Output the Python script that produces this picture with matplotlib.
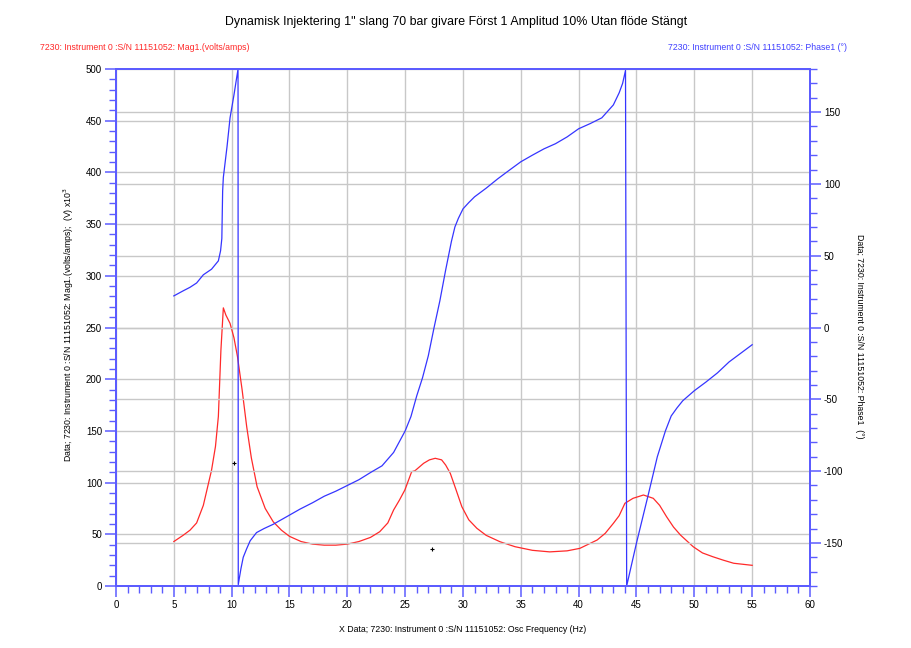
import matplotlib
matplotlib.use("Agg")
import matplotlib.pyplot as plt
from matplotlib.ticker import MultipleLocator

plt.rcParams["font.family"] = ["Liberation Sans", "DejaVu Sans"]
plt.rcParams["axes.unicode_minus"] = False

# --- data -------------------------------------------------------------
MAG_FREQ = [5.0, 5.8, 6.4, 6.97, 7.55, 8.26, 8.6, 8.85, 9.07, 9.28, 9.5, 9.86,
            10.2, 10.5, 10.9, 11.3, 11.7, 12.2, 12.9, 13.6, 14.3, 15.0, 16, 17,
            18, 19, 20, 21, 22, 22.8, 23.5, 24.0, 24.5, 24.98, 25.56, 25.85,
            26.6, 27.1, 27.6, 28.15, 28.5, 28.9, 29.4, 29.9, 30.5, 31.2, 32,
            33.2, 34.5, 36, 37.5, 39, 40.1, 41.6, 42.3, 43.0, 43.5, 44.0, 44.7,
            45.6, 46.45, 47.0, 47.6, 48.2, 48.8, 49.9, 50.7, 51.6, 52.5, 53.4,
            54.2, 55.0]
MAG = [43, 49, 54, 61, 78, 112, 135, 164, 228, 269, 262, 254,
       240, 222, 190, 154, 124, 96, 75, 62, 54, 48, 43, 40.5,
       39.5, 39.5, 40.5, 43, 47, 52.5, 61, 73.5, 83, 93, 110.5, 111.5,
       118.7, 122, 123.5, 122, 117, 109, 93, 76.7, 64, 55.8, 49,
       42.8, 38, 34.5, 33, 34, 36.4, 44.5, 51, 60.6, 68, 80, 84.8,
       88, 84.8, 78, 67, 57, 49.3, 38, 32, 28.3, 25, 22,
       21, 20]

PHASE_FREQ = [5.0, 5.8, 6.4, 6.97, 7.55, 8.26, 8.85, 9.04, 9.15, 9.22, 9.28,
              9.6, 9.86, 10.2, 10.55, 10.57, 10.8, 11.0, 11.3, 11.6, 12.15,
              12.8, 13.6, 14.7, 15.9, 17, 18, 19, 20, 21, 22, 23, 24, 25, 25.5,
              26, 26.5, 27, 27.5, 28, 28.5, 29, 29.3, 29.6, 30, 30.5, 31, 32,
              33, 34, 35, 36, 37, 38, 39, 40, 41, 42, 43, 43.5, 43.8, 44.05,
              44.15, 45, 46, 46.8, 47.5, 48, 48.5, 49, 50, 51, 52, 53, 54, 55]
PHASE = [22, 25.5, 28, 31, 36.7, 40.6, 46.4, 53.4, 62, 95, 104.5,
         126, 146, 162, 180, -179, -168, -160, -154, -148.5, -142.8,
         -140, -137, -132, -126.5, -122, -117.5, -114, -110, -106, -101, -96.3, -87, -72, -62,
         -47.6, -35, -19.7, 0, 18.6, 40, 60, 70, 76, 82.6, 87, 91, 97,
         103.5, 109.5, 115.4, 120, 124.4, 128, 132.7, 138.4, 142, 146, 155, 163.4, 170, 179,
         -180, -150, -117, -90, -72, -61.6, -56, -51, -44, -38, -31.6, -24, -18, -12]

CURSOR_F = [10.2, 27.3]
CURSOR_V = [119, 35.8]

TITLE = "Dynamisk Injektering 1\" slang 70 bar givare Först 1 Amplitud 10% Utan flöde Stängt"
MAG_HDR = "7230: Instrument 0 :S/N 11151052: Mag1.(volts/amps)"
PHASE_HDR = "7230: Instrument 0 :S/N 11151052: Phase1 (°)"
YLABEL_L = "Data; 7230: Instrument 0 :S/N 11151052: Mag1.(volts/amps);  (V) x10$^3$"
YLABEL_R = "Data; 7230: Instrument 0 :S/N 11151052: Phase1  (°)"
XLABEL = "X Data; 7230: Instrument 0 :S/N 11151052: Osc Frequency (Hz)"

AXBLUE = "#5c5cff"
GRID = "#c8c8c8"
RED = "#ff2a2a"
BLUE = "#3535ff"
FS = 6.3

fig = plt.figure(figsize=(9.12, 6.48), dpi=100)
ax = fig.add_axes([116 / 912, 1 - 586 / 648, 694 / 912, 517 / 648])
ax2 = ax.twinx()

ax.set_xlim(0, 60)
ax.set_ylim(0, 500)
ax2.set_ylim(-180, 180)

ax.xaxis.set_major_locator(MultipleLocator(5))
ax.xaxis.set_minor_locator(MultipleLocator(1))
ax.yaxis.set_major_locator(MultipleLocator(50))
ax.yaxis.set_minor_locator(MultipleLocator(10))
ax2.yaxis.set_major_locator(MultipleLocator(50))
ax2.yaxis.set_minor_locator(MultipleLocator(10))

for a in (ax, ax2):
    a.grid(True, which="major", color=GRID, lw=1.0)
    a.set_axisbelow(True)
    for s in a.spines.values():
        s.set_color(AXBLUE)
        s.set_linewidth(1.4)
    a.tick_params(which="major", length=8, width=1.1, color=AXBLUE,
                  labelsize=FS + 0.7, labelcolor="black", pad=2)
    a.tick_params(which="minor", length=5, width=1.0, color=AXBLUE)
ax2.grid(False, axis="x")

ax.plot(MAG_FREQ, MAG, color=RED, lw=0.9)
ax.plot(CURSOR_F, CURSOR_V, ls="none", marker="+", ms=3, mew=0.8, color="black")
ax2.plot(PHASE_FREQ, PHASE, color=BLUE, lw=0.9)

fig.text(0.5, 1 - 22 / 648, TITLE, ha="center", va="center", fontsize=8.9)
fig.text(40 / 912, 1 - 47 / 648, MAG_HDR, ha="left", va="center", fontsize=FS, color=RED)
fig.text(847 / 912, 1 - 47 / 648, PHASE_HDR, ha="right", va="center", fontsize=FS, color="#4040ff")
fig.text(69 / 912, 1 - 325 / 648, YLABEL_L, rotation=90, ha="center", va="center", fontsize=FS)
fig.text(860 / 912, 1 - 336 / 648, YLABEL_R, rotation=270, ha="center", va="center", fontsize=FS)
fig.text(463 / 912, 1 - 630 / 648, XLABEL, ha="center", va="center", fontsize=FS)

fig.savefig("out.png", dpi=100, facecolor="white")
